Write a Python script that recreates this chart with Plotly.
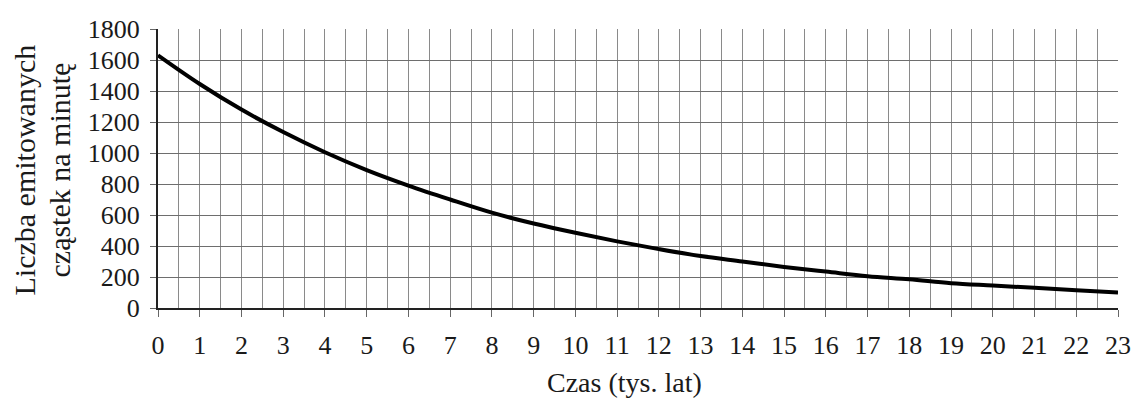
import plotly.graph_objects as go

# Czas w tysiącach lat oraz odczytana aktywność (liczba cząstek na minutę)
czas_tys_lat = list(range(0, 24))
czastki_na_minute = [1630, 1445, 1280, 1135, 1005, 890, 790, 700, 615, 545,
                     485, 430, 380, 335, 300, 265, 235, 205, 185, 160,
                     145, 130, 115, 100]

y_ticks = list(range(0, 1801, 200))
x_ticks = list(range(0, 24))

y_title_lines = ["Liczba emitowanych", "cząstek na minutę"]
x_title = "Czas (tys. lat)"

font_family = "Liberation Serif, Times New Roman, serif"
text_color = "#1a1a1a"

fig = go.Figure()
fig.add_trace(go.Scatter(
    x=czas_tys_lat,
    y=czastki_na_minute,
    mode="lines",
    line=dict(color="black", width=4, shape="spline", smoothing=1.0),
    hoverinfo="x+y",
))

fig.update_layout(
    width=1143,
    height=398,
    margin=dict(l=158, r=13, t=29, b=90),
    paper_bgcolor="white",
    plot_bgcolor="white",
    showlegend=False,
    font=dict(family=font_family, color=text_color, size=26),
)

fig.update_xaxes(
    range=[0, 23],
    tickvals=x_ticks,
    ticktext=[str(v) for v in x_ticks],
    showgrid=True,
    gridcolor="#8a8a8a",
    gridwidth=1,
    minor=dict(dtick=0.5, showgrid=True, gridcolor="#8a8a8a", gridwidth=1),
    ticks="outside",
    ticklen=7,
    tickcolor="#666666",
    tickwidth=1,
    ticklabelstandoff=6,
    showline=True,
    linecolor="#222222",
    linewidth=2,
    zeroline=False,
    tickfont=dict(size=26, family=font_family),
    fixedrange=True,
)

fig.update_yaxes(
    range=[0, 1800],
    tickvals=y_ticks,
    ticktext=[str(v) for v in y_ticks],
    showgrid=True,
    gridcolor="#6e6e6e",
    gridwidth=1,
    ticks="outside",
    ticklen=6,
    tickcolor="#666666",
    tickwidth=1,
    ticklabelstandoff=5,
    showline=True,
    linecolor="#222222",
    linewidth=2,
    zeroline=False,
    tickfont=dict(size=26, family=font_family),
    fixedrange=True,
)

# Tytuł osi pionowej: dwie obrócone linie tekstu
for line_text, shift in zip(y_title_lines, [-134, -99]):
    fig.add_annotation(
        text=line_text,
        xref="paper", yref="paper",
        x=0, y=0.5,
        xanchor="center", yanchor="middle",
        xshift=shift,
        yshift=-2,
        textangle=-90,
        showarrow=False,
        font=dict(size=30, family=font_family, color=text_color),
    )

# Tytuł osi poziomej
fig.add_annotation(
    text=x_title,
    xref="paper", yref="paper",
    x=0.5, y=0,
    xanchor="center", yanchor="middle",
    xshift=-14,
    yshift=-74,
    showarrow=False,
    font=dict(size=28, family=font_family, color=text_color),
)

fig.write_html("out.html")
